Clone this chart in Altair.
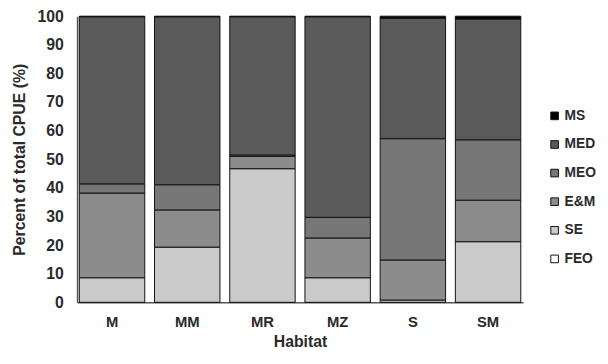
import altair as alt
import pandas as pd

habitats = ["M", "MM", "MR", "MZ", "S", "SM"]
groups = ["MS", "MED", "MEO", "E&M", "SE", "FEO"]
stack_rank = {"FEO": 0, "SE": 1, "E&M": 2, "MEO": 3, "MED": 4, "MS": 5}

feo = [0.0, 0.0, 0.0, 0.0, 0.0, 0.0]
se = [8.6, 19.3, 46.7, 8.6, 0.8, 21.2]
em = [29.6, 13.0, 4.3, 13.9, 14.0, 14.5]
meo = [3.2, 8.8, 0.5, 7.2, 42.4, 21.1]
med = [58.4, 58.7, 48.3, 70.1, 42.1, 42.2]
ms = [0.2, 0.2, 0.2, 0.2, 0.7, 1.0]

series = {"FEO": feo, "SE": se, "E&M": em, "MEO": meo, "MED": med, "MS": ms}
rows = []
for g, vals in series.items():
    for h, v in zip(habitats, vals):
        rows.append({"Habitat": h, "Group": g, "Value": v, "rank": stack_rank[g]})
df = pd.DataFrame(rows)

colors = ["#000000", "#5a5a5a", "#777777", "#8c8c8c", "#cacaca", "#ffffff"]
font = "Liberation Sans"
tcol = "#2a2a2a"

chart = alt.Chart(df).mark_bar(stroke="#111111", strokeWidth=1).encode(
    x=alt.X("Habitat:N", sort=habitats,
            scale=alt.Scale(paddingInner=0.13, paddingOuter=0.03),
            axis=alt.Axis(title="Habitat", labelAngle=0, ticks=False, labelPadding=12,
                          labelFontSize=15, labelFontWeight="bold", labelFont=font,
                          labelColor=tcol, titleFont=font, titleFontSize=16,
                          titleFontWeight="bold", titleColor=tcol, titlePadding=5,
                          domainColor="#555555", domainWidth=1.5)),
    y=alt.Y("Value:Q", stack="zero",
            scale=alt.Scale(domain=[0, 100], nice=False),
            axis=alt.Axis(title="Percent of total CPUE (%)", values=list(range(0, 101, 10)),
                          grid=False, ticks=False, labelPadding=14,
                          labelFontSize=16, labelFontWeight="bold", labelFont=font,
                          labelColor=tcol, titleFont=font, titleFontSize=16,
                          titleFontWeight="bold", titleColor=tcol, titlePadding=10,
                          domainColor="#555555", domainWidth=1.5)),
    color=alt.Color("Group:N",
                    scale=alt.Scale(domain=groups, range=colors),
                    legend=alt.Legend(title=None, orient="none", legendX=477, legendY=94,
                                      symbolType="square", symbolSize=60,
                                      symbolStrokeColor="#111111", symbolStrokeWidth=1,
                                      labelFont=font, labelFontSize=14, labelFontWeight="bold",
                                      labelColor=tcol, rowPadding=15, labelOffset=3)),
    order=alt.Order("rank:Q", sort="ascending"),
).properties(
    width=452, height=290,
    autosize=alt.AutoSizeParams(type="none"),
    padding={"left": 70, "top": 6, "right": 78, "bottom": 46},
).configure_view(stroke=None)

chart.save("out.html", embed_options={"renderer": "svg", "actions": False})
